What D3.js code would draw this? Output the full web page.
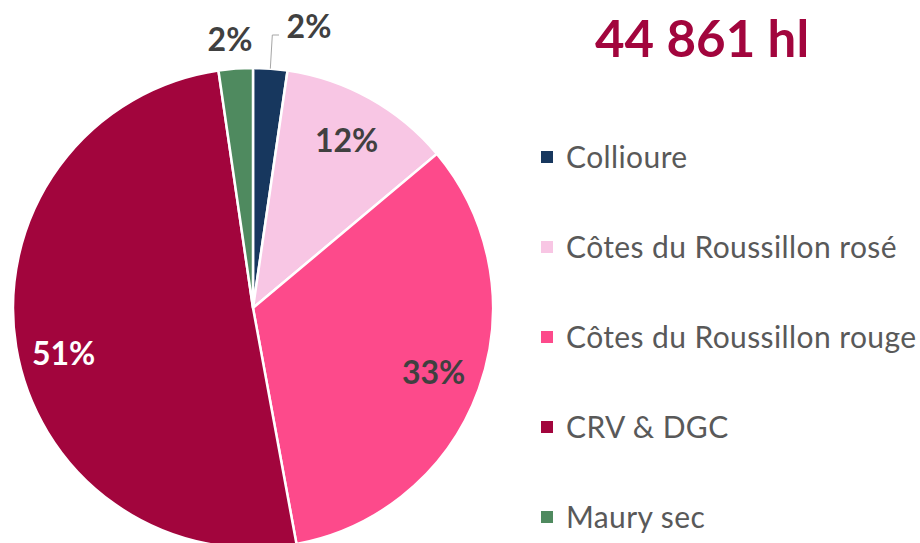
<!DOCTYPE html>
<head>
  <meta charset="utf-8">
  <script src="https://cdn.jsdelivr.net/npm/d3@7"></script>
  <style>
    body { margin: 0; background: #fff; }
    text { font-family: Lato, "Open Sans", sans-serif; }
  </style>
</head>
<body>
  <svg width="920" height="543"></svg>
  <script>
    const categories = ["Collioure", "Côtes du Roussillon rosé", "Côtes du Roussillon rouge", "CRV & DGC", "Maury sec"];
    const shares = [2.3, 11.6, 33.2, 50.6, 2.3];
    const colors = ["#17375e", "#f8c6e4", "#fd4a8b", "#a2053d", "#4f8a5f"];
    const labelColors = ["#404040", "#404040", "#404040", "#ffffff", "#404040"];
    const total = "44 861 hl";

    const svg = d3.select("svg");
    const cx = 253, cy = 308, r = 240;

    const pie = d3.pie().sort(null).value(d => d.v);
    const data = pie(categories.map((c, i) => ({ c: c, v: shares[i], i: i })));
    const arc = d3.arc().innerRadius(0).outerRadius(r);
    const labelArc = d3.arc().innerRadius(r * 0.8).outerRadius(r * 0.8);

    const g = svg.append("g").attr("transform", "translate(" + cx + "," + cy + ")");

    g.selectAll("path")
      .data(data)
      .enter()
      .append("path")
      .attr("d", arc)
      .attr("fill", d => colors[d.data.i])
      .attr("stroke", "#fff")
      .attr("stroke-width", 2.5);

    // inside labels for the big slices
    g.selectAll("text.in")
      .data(data.filter(d => d.data.v > 5))
      .enter()
      .append("text")
      .attr("class", "in")
      .attr("transform", d => {
        const c = labelArc.centroid(d);
        // the big slice's label sits a little lower in the original
        if (d.data.i === 3) c[1] += 15;
        return "translate(" + c + ")";
      })
      .attr("text-anchor", "middle")
      .attr("dy", "0.35em")
      .attr("font-size", 32)
      .attr("font-weight", "bold")
      .attr("fill", d => labelColors[d.data.i])
      .text(d => Math.round(d.data.v) + "%");

    // outside labels for the two small slices
    const outside = [
      { d: data[0], x: 309, y: 27, line: true },
      { d: data[4], x: 230, y: 40, line: false }
    ];
    outside.forEach(o => {
      if (o.line) {
        const mid = (o.d.startAngle + o.d.endAngle) / 2;
        const px = Math.sin(mid) * r, py = -Math.cos(mid) * r;
        g.append("polyline")
          .attr("points", [[px, py], [px + 2, o.y - cy + 8], [o.x - cx - 30, o.y - cy + 8]].map(p => p.join(",")).join(" "))
          .attr("fill", "none")
          .attr("stroke", "#a6a6a6")
          .attr("stroke-width", 1);
      }
      svg.append("text")
        .attr("x", o.x)
        .attr("y", o.y)
        .attr("text-anchor", "middle")
        .attr("dy", "0.35em")
        .attr("font-size", 32)
        .attr("font-weight", "bold")
        .attr("fill", "#404040")
        .text(Math.round(o.d.data.v) + "%");
    });

    svg.append("text")
      .attr("x", 702)
      .attr("y", 57)
      .attr("text-anchor", "middle")
      .attr("font-size", 51)
      .attr("font-weight", "bold")
      .attr("fill", "#a2053d")
      .text(total);

    const legend = svg.append("g");
    const item = legend.selectAll("g")
      .data(categories)
      .enter()
      .append("g")
      .attr("transform", (d, i) => "translate(541," + (157 + i * 90) + ")");
    item.append("rect")
      .attr("x", 0).attr("y", -6)
      .attr("width", 12).attr("height", 12)
      .attr("fill", (d, i) => colors[i]);
    item.append("text")
      .attr("x", 25)
      .attr("dy", "0.35em")
      .attr("font-size", 30)
      .attr("letter-spacing", 0.4)
      .attr("fill", "#595959")
      .text(d => d);
  </script>
</body>
